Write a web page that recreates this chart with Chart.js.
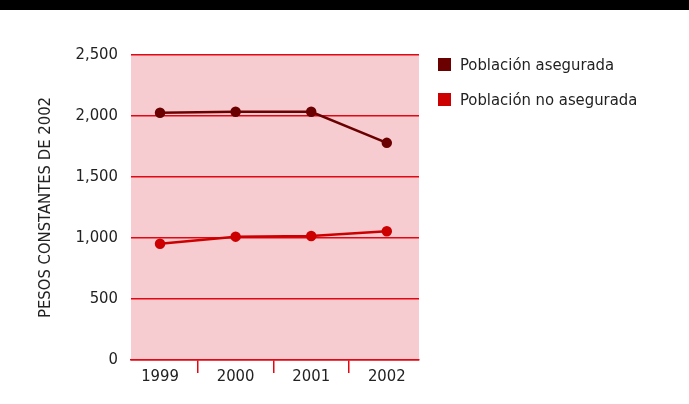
<!DOCTYPE html>
<html>
<head>
<meta charset="utf-8">
<script src="https://cdn.jsdelivr.net/npm/chart.js@4/dist/chart.umd.min.js"></script>
<style>
  html,body{margin:0;padding:0;background:#fff;}
  #wrap{position:relative;width:689px;height:404px;overflow:hidden;}
  #topbar{position:absolute;left:0;top:0;width:689px;height:10px;background:#000;}
  #legend{position:absolute;left:438px;top:47px;font-family:"Liberation Sans Narrow","DejaVu Sans Condensed","Open Sans",sans-serif;font-size:16.5px;color:#222;}
  #legend div{height:35px;display:flex;align-items:center;}
  #legend span.box{display:inline-block;width:13px;height:13px;margin-right:9px;}
</style>
</head>
<body>
<div id="wrap">
  <canvas id="chart" width="689" height="404"></canvas>
  <div id="topbar"></div>
  <div id="legend"></div>
</div>
<script>
// =========================
// DATA
// =========================

const years = ["1999","2000","2001","2002"];
const asegurada = [2027, 2035, 2035, 1780];
const noAsegurada = [953, 1011, 1016, 1055];
const seriesNames = ["Población asegurada","Población no asegurada"];
const seriesColors = ["#6b0000","#cc0000"];
const yTitle = "PESOS CONSTANTES DE 2002";

const gridRed = "#e30613";
const font = "'Liberation Sans Narrow', 'DejaVu Sans Condensed', 'Open Sans', sans-serif";

// fond rose de la zone du graphe
const fondPlugin = {
  id:"fond",
  beforeDraw(chart){
    const a = chart.chartArea;
    const ctx = chart.ctx;
    ctx.save();
    ctx.fillStyle = "#f6ccd0";
    ctx.fillRect(a.left, a.top, a.right - a.left, a.bottom - a.top);
    ctx.restore();
  }
};

const toPts = (arr) => arr.map((v,i)=>({x:i, y:v}));

const ctx = document.getElementById("chart").getContext("2d");

new Chart(ctx,{
  type:"line",
  data:{
    datasets:[
      {label:seriesNames[0], data:toPts(asegurada), borderColor:seriesColors[0], backgroundColor:seriesColors[0],
       borderWidth:2.5, pointRadius:4, pointHoverRadius:4, tension:0},
      {label:seriesNames[1], data:toPts(noAsegurada), borderColor:seriesColors[1], backgroundColor:seriesColors[1],
       borderWidth:2.5, pointRadius:4, pointHoverRadius:4, tension:0}
    ]
  },
  options:{
    responsive:false,
    animation:false,
    layout:{padding:{left:36, top:55, right:270, bottom:0}},
    plugins:{legend:{display:false}, tooltip:{enabled:false}},
    scales:{
      x:{
        type:"linear",
        min:-0.384, max:3.426,
        afterBuildTicks(s){ s.ticks = years.map((y,i)=>({value:i})); },
        grid:{
          offset:true,
          drawOnChartArea:false,
          tickLength:13,
          lineWidth:1.5,
          color:gridRed
        },
        border:{display:true, color:gridRed, width:1.5},
        ticks:{font:{family:font, size:16.5}, color:"#222", padding:-6,
               callback:(v)=> years[v]},
        afterFit(s){ s.height = 44; }
      },
      y:{
        min:0, max:2500,
        grid:{color:gridRed, drawTicks:false, lineWidth:1.5},
        border:{display:false},
        ticks:{stepSize:500, font:{family:font, size:16.5}, color:"#222", padding:13,
               callback:(v)=> v.toLocaleString("en-US")},
        title:{display:true, text:yTitle, font:{family:font, size:16.5}, color:"#222", padding:{top:0,bottom:14}},
        afterFit(s){ s.width = 95; }
      }
    }
  },
  plugins:[fondPlugin]
});

// legende html
const leg = document.getElementById("legend");
seriesNames.forEach((n,i)=>{
  leg.innerHTML += `<div><span class="box" style="background:${seriesColors[i]}"></span>${n}</div>`;
});
</script>
</body>
</html>
